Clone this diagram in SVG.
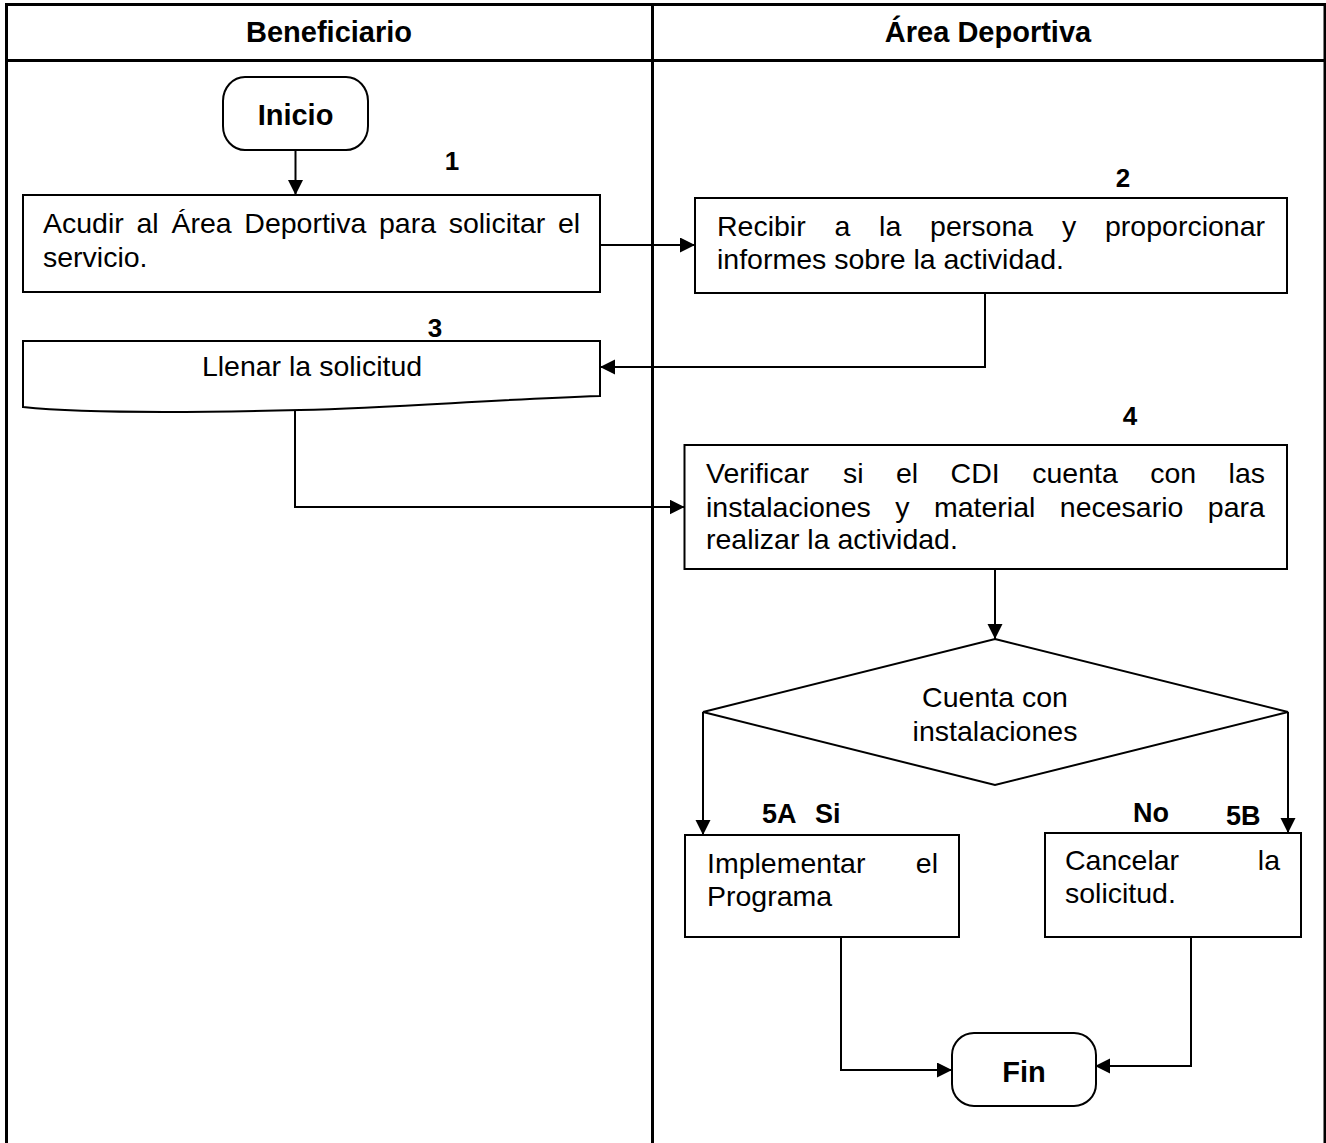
<svg xmlns="http://www.w3.org/2000/svg" width="1326" height="1143" viewBox="0 0 1326 1143">
<style>
.frame{fill:none;stroke:#000;stroke-width:3}
.box{fill:#fff;stroke:#000;stroke-width:2}
.con{fill:none;stroke:#000;stroke-width:2}
text{font-family:"Liberation Sans",Arial,sans-serif;fill:#000}
.t{font-size:28.5px}
.h{font-size:29px;font-weight:bold}
.n{font-size:26px;font-weight:bold}
.l{font-size:27px;font-weight:bold}
.c{text-anchor:middle}
.e{text-anchor:end}
</style>
<defs>
<marker id="arr" markerUnits="userSpaceOnUse" markerWidth="16" markerHeight="16" refX="15" refY="7.5" orient="auto">
<path d="M0,0 L15,7.5 L0,15 Z" fill="#000"/>
</marker>
</defs>
<rect width="1326" height="1143" fill="#fff"/>
<g id="swimlanes">
<path class="frame" d="M6.5,1143 V4.5 H1325 V1143"/>
<line class="frame" x1="6.5" y1="60.5" x2="1325" y2="60.5"/>
<line class="frame" x1="652.5" y1="4.5" x2="652.5" y2="1143"/>
<text class="h c" x="329" y="42">Beneficiario</text>
<text class="h c" x="988" y="42">Área Deportiva</text>
</g>
<g id="connectors">
<path class="con" d="M295.5,150 V195" marker-end="url(#arr)"/>
<path class="con" d="M600,245 H695" marker-end="url(#arr)"/>
<path class="con" d="M985,293 V367 H600" marker-end="url(#arr)"/>
<path class="con" d="M295,410 V507 H684.5" marker-end="url(#arr)"/>
<path class="con" d="M995,569 V639" marker-end="url(#arr)"/>
<path class="con" d="M703,712 V835" marker-end="url(#arr)"/>
<path class="con" d="M1288,712 V833" marker-end="url(#arr)"/>
<path class="con" d="M841,937 V1070 H952" marker-end="url(#arr)"/>
<path class="con" d="M1191,937 V1066 H1095" marker-end="url(#arr)"/>
</g>
<g id="inicio">
<rect class="box" x="223" y="77" width="145" height="73" rx="22" ry="24"/>
<text class="h c" x="295.5" y="125">Inicio</text>
</g>
<g id="step1">
<text class="n c" x="452" y="170">1</text>
<rect class="box" x="23" y="195" width="577" height="97"/>
<text class="t" y="233"><tspan x="43">Acudir</tspan><tspan x="136.5">al</tspan><tspan x="171.4">Área</tspan><tspan x="244.3">Deportiva</tspan><tspan x="379">para</tspan><tspan x="448.7">solicitar</tspan><tspan x="558">el</tspan></text>
<text class="t" x="43" y="267">servicio.</text>
</g>
<g id="step2">
<text class="n c" x="1123" y="187">2</text>
<rect class="box" x="695" y="198" width="592" height="95"/>
<text class="t" y="236"><tspan x="717">Recibir</tspan><tspan x="834.5">a</tspan><tspan x="879.1">la</tspan><tspan x="930.1">persona</tspan><tspan x="1061.9">y</tspan><tspan x="1105">proporcionar</tspan></text>
<text class="t" x="717" y="269">informes sobre la actividad.</text>
</g>
<g id="step3">
<path class="box" d="M23,341 H600 V396 C480,400 400,408 300,410 C180,413 80,413 23,407 Z"/>
<text class="n c" x="435" y="337">3</text>
<text class="t c" x="312" y="376">Llenar la solicitud</text>
</g>
<g id="step4">
<text class="n c" x="1130" y="425">4</text>
<rect class="box" x="684.5" y="445" width="602.5" height="124"/>
<text class="t" y="483"><tspan x="706">Verificar</tspan><tspan x="843">si</tspan><tspan x="896">el</tspan><tspan x="950.6">CDI</tspan><tspan x="1032.2">cuenta</tspan><tspan x="1150.2">con</tspan><tspan x="1228.6">las</tspan></text>
<text class="t" y="517"><tspan x="706">instalaciones</tspan><tspan x="895.2">y</tspan><tspan x="934">material</tspan><tspan x="1059.8">necesario</tspan><tspan x="1207.8">para</tspan></text>
<text class="t" x="706" y="549">realizar la actividad.</text>
</g>
<g id="decision">
<polygon class="box" points="995,639 1288,712 995,785 703,712"/>
<text class="t c" x="995" y="707">Cuenta con</text>
<text class="t c" x="995" y="741">instalaciones</text>
</g>
<g id="labels">
<text class="l" x="762" y="823">5A</text>
<text class="l" x="815" y="823">Si</text>
<text class="l" x="1133" y="822">No</text>
<text class="l" x="1226" y="825">5B</text>
</g>
<g id="step5a">
<rect class="box" x="685" y="835" width="274" height="102"/>
<text class="t" x="707" y="873">Implementar</text>
<text class="t e" x="938" y="873">el</text>
<text class="t" x="707" y="906">Programa</text>
</g>
<g id="step5b">
<rect class="box" x="1045" y="833" width="256" height="104"/>
<text class="t" x="1065" y="870">Cancelar</text>
<text class="t e" x="1280" y="870">la</text>
<text class="t" x="1065" y="903">solicitud.</text>
</g>
<g id="fin">
<rect class="box" x="952" y="1033" width="144" height="73" rx="22" ry="22"/>
<text class="h c" x="1024" y="1082">Fin</text>
</g>
</svg>
